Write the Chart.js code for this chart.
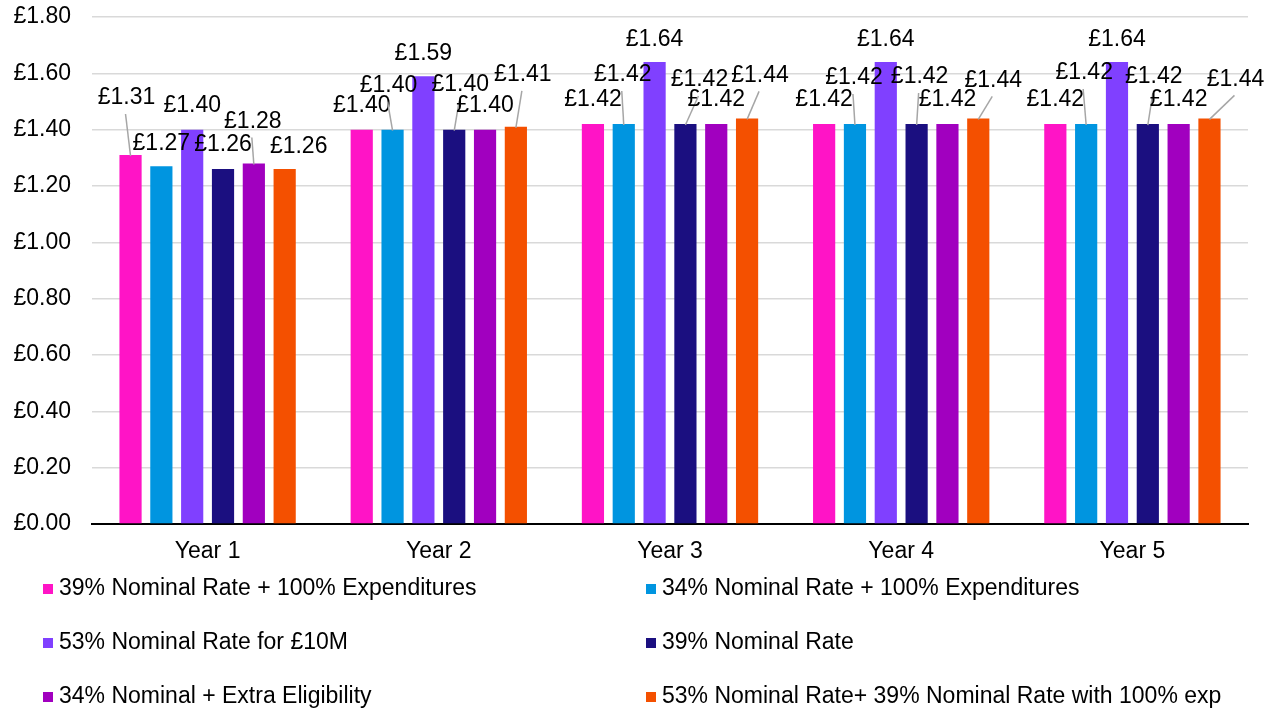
<!DOCTYPE html>
<html>
<head>
<meta charset="utf-8">
<script src="https://cdn.jsdelivr.net/npm/chart.js@4/dist/chart.umd.min.js"></script>
<style>
  html, body { margin: 0; padding: 0; background: #ffffff; }
  #wrap { width: 1278px; height: 711px; position: relative; }
</style>
</head>
<body>
<div id="wrap"><canvas id="chart" width="1278" height="711"></canvas></div>
<script>
// Cost per pound of relief, by year and scheme option
const categories = ['Year 1', 'Year 2', 'Year 3', 'Year 4', 'Year 5'];

const seriesNames = [
  '39% Nominal Rate + 100% Expenditures',
  '34% Nominal Rate + 100% Expenditures',
  '53% Nominal Rate for £10M',
  '39% Nominal Rate',
  '34% Nominal + Extra Eligibility',
  '53% Nominal Rate+ 39% Nominal Rate with 100% exp'
];

const nominal39Exp    = [1.31, 1.40, 1.42, 1.42, 1.42];
const nominal34Exp    = [1.27, 1.40, 1.42, 1.42, 1.42];
const nominal53For10M = [1.40, 1.59, 1.64, 1.64, 1.64];
const nominal39       = [1.26, 1.40, 1.42, 1.42, 1.42];
const nominal34Extra  = [1.28, 1.40, 1.42, 1.42, 1.42];
const nominal53Plus39 = [1.26, 1.41, 1.44, 1.44, 1.44];

const yMin = 0, yMax = 1.8, yStep = 0.2;

const seriesColors = ['#FF14C6', '#0095E0', '#8040FF', '#1B0F80', '#A100BF', '#F45000'];

// Value-label placement (pixel offset of label centre from bar top centre)
const D = [0, -24];
const labelOffsets = [
  [[-4, -57], D, D, D, D],
  [[0, -23], [-4, -44], [-1, -49], [-1, -46], [-2, -51]],
  [D, [0, -22], [0, -22], [0, -22], [0, -22]],
  [D, [6, -45], [14, -44], [3, -47], [6, -47]],
  [[-1, -42], D, D, D, D],
  [[14, -22], [7, -52], [13, -43], [15, -38], [26, -39]]
];

const FONT = '"Liberation Sans", Arial, sans-serif';
const FONT_SIZE = 23;

const allSeries = [nominal39Exp, nominal34Exp, nominal53For10M, nominal39, nominal34Extra, nominal53Plus39];

const money = v => '£' + Number(v).toFixed(2);

const valueLabels = {
  id: 'valueLabels',
  afterDatasetsDraw(chart) {
    const ctx = chart.ctx;
    ctx.save();
    ctx.font = FONT_SIZE + 'px ' + FONT;
    ctx.textAlign = 'center';
    ctx.textBaseline = 'middle';
    chart.data.datasets.forEach((ds, di) => {
      const meta = chart.getDatasetMeta(di);
      meta.data.forEach((bar, ci) => {
        const off = labelOffsets[di][ci];
        const lx = bar.x + off[0];
        const ly = bar.y + off[1];
        if (off[1] < -30) {
          ctx.strokeStyle = '#a6a6a6';
          ctx.lineWidth = 1.5;
          ctx.beginPath();
          ctx.moveTo(lx - 1, ly + 16);
          ctx.lineTo(bar.x, bar.y + 1);
          ctx.stroke();
        }
        ctx.fillStyle = '#000000';
        ctx.fillText(money(ds.data[ci]), lx, ly);
      });
    });
    ctx.restore();
  }
};

const gridLegend = {
  id: 'gridLegend',
  afterDraw(chart) {
    const ctx = chart.ctx;
    const colX = [43, 646];
    const rowY0 = 589, rowGap = 54;
    ctx.save();
    ctx.font = FONT_SIZE + 'px ' + FONT;
    ctx.textAlign = 'left';
    ctx.textBaseline = 'middle';
    chart.data.datasets.forEach((ds, i) => {
      const x = colX[i % 2];
      const y = rowY0 + Math.floor(i / 2) * rowGap;
      ctx.fillStyle = ds.backgroundColor;
      ctx.fillRect(x, y - 5, 10, 10);
      ctx.fillStyle = '#000000';
      ctx.fillText(ds.label, x + 16, y);
    });
    ctx.restore();
  }
};

new Chart(document.getElementById('chart'), {
  type: 'bar',
  data: {
    labels: categories,
    datasets: allSeries.map((vals, i) => ({
      label: seriesNames[i],
      data: vals,
      backgroundColor: seriesColors[i],
      borderWidth: 0,
      categoryPercentage: 0.8,
      barPercentage: 0.72
    }))
  },
  options: {
    responsive: false,
    animation: false,
    layout: { padding: { top: 17, right: 30, bottom: 147, left: 0 } },
    plugins: {
      legend: { display: false },
      tooltip: { enabled: false }
    },
    scales: {
      x: {
        grid: { display: false, drawTicks: false },
        border: { display: true, color: '#000000', width: 2 },
        ticks: { color: '#000000', font: { family: FONT, size: FONT_SIZE }, padding: 14 },
        afterFit(s) { s.height = 40; s.paddingLeft = 0; s.paddingRight = 0; }
      },
      y: {
        min: yMin,
        max: yMax,
        grid: {
          drawTicks: false,
          lineWidth: 1.5,
          color: c => (c.tick && c.tick.value === 0 ? 'rgba(0,0,0,0)' : '#d9d9d9')
        },
        border: { display: false },
        ticks: {
          stepSize: yStep,
          color: '#000000',
          padding: 21,
          font: { family: FONT, size: FONT_SIZE },
          callback: v => money(v)
        },
        afterFit(s) { s.width = 92; s.paddingTop = 0; s.paddingBottom = 0; }
      }
    }
  },
  plugins: [valueLabels, gridLegend]
});
</script>
</body>
</html>
